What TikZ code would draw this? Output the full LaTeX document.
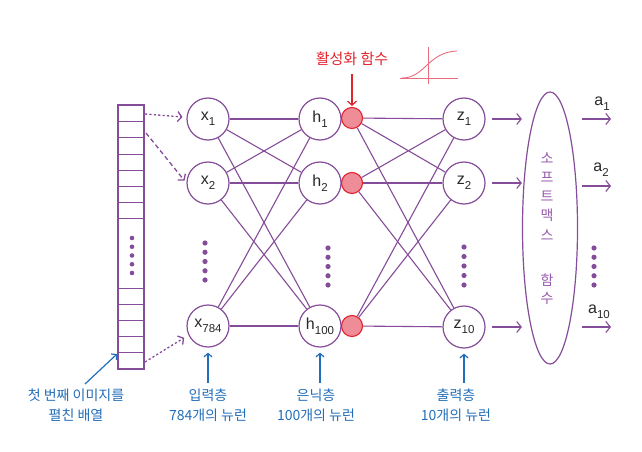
\documentclass[tikz,border=0pt]{standalone}
\usepackage{fontspec}
\setmainfont{Liberation Sans}
\newfontfamily\kr{Noto Sans CJK KR}
\usetikzlibrary{arrows.meta,shapes.geometric}
\definecolor{pur}{RGB}{133,76,153}
\definecolor{purtxt}{RGB}{150,90,172}
\definecolor{redc}{RGB}{225,35,45}
\definecolor{pinkf}{RGB}{238,140,152}
\definecolor{sigc}{RGB}{232,110,125}
\definecolor{bluec}{RGB}{35,110,185}
\definecolor{lblc}{RGB}{40,40,40}
\newcommand\lsub[1]{\raisebox{-0.55ex}{\fontsize{11.5}{12}\selectfont #1}}
\begin{document}
\begin{tikzpicture}[x=1pt,y=-1pt,
  neuron/.style={circle,draw=pur,line width=1.2pt,fill=white,minimum size=42pt,inner sep=0pt,
    text=lblc,font=\fontsize{16}{16}\selectfont},
  actnode/.style={circle,draw=redc,line width=1.1pt,fill=pinkf,minimum size=21pt,inner sep=0pt},
  conn/.style={draw=pur,line width=1.1pt},
  parr/.style={draw=pur,line width=1.1pt,-{Straight Barb[length=4.5pt,width=11pt]}},
  inarr/.style={draw=pur,line width=1.3pt,-{Straight Barb[length=4pt,width=10pt]}},
  barr/.style={draw=bluec,line width=1.2pt,-{Straight Barb[length=3.5pt,width=8pt]}},
  blbl/.style={text=bluec,font=\kr\fontsize{14}{20}\selectfont,align=center,inner sep=1pt},
  smtxt/.style={text=purtxt,font=\kr\fontsize{14}{14}\selectfont,inner sep=0pt},
  albl/.style={text=lblc,font=\fontsize{16}{16}\selectfont,inner sep=0pt},
  dotp/.style={fill=pur}
]
\useasboundingbox (0,0) rectangle (642,452);

% ---- flattened array
\node[draw=pur,line width=1.1pt,minimum width=26pt,minimum height=264pt,inner sep=0pt] (arr) at (131,237) {};
\foreach \yy in {121,137.5,154,170,186,202,218,288,304,320,336,352}
  \draw[pur,line width=1pt] (118,\yy) -- (144,\yy);
\foreach \i in {0,...,4} \fill[dotp] (132,238+\i*8.75) circle (2.3pt);
\coordinate (c1) at (145,114);
\coordinate (c2) at (146,133);
\coordinate (cb) at (145,362);

% ---- neurons
\node[neuron] (x1) at (208,119) {x\lsub{1}};
\node[neuron] (x2) at (208,183) {x\lsub{2}};
\node[neuron] (x3) at (208,326) {x\lsub{784}};
\node[neuron] (h1) at (320,119) {h\lsub{1}};
\node[neuron] (h2) at (320,183) {h\lsub{2}};
\node[neuron] (h3) at (320,326) {h\lsub{100}};
\node[actnode] (r1) at (352,118) {};
\node[actnode] (r2) at (352,183) {};
\node[actnode] (r3) at (352,326) {};
\node[neuron] (z1) at (464,119) {z\lsub{1}};
\node[neuron] (z2) at (464,183) {z\lsub{2}};
\node[neuron] (z3) at (464,327) {z\lsub{10}};

% ---- connections
\foreach \a in {1,2,3} \foreach \b in {1,2,3} {
  \draw[conn] (x\a) -- (h\b);
  \draw[conn] (r\a) -- (z\b);
}

% ---- vertical dots
\foreach \i in {0,...,4} {
  \fill[dotp] (205,243+\i*9.25) circle (2.6pt);
  \fill[dotp] (328,248+\i*9.25) circle (2.6pt);
  \fill[dotp] (464,247+\i*9.5) circle (2.6pt);
  \fill[dotp] (594,248+\i*9.25) circle (2.6pt);
}

% ---- input arrows from array
\draw[inarr,dash pattern=on 2.2pt off 2.2pt,shorten >=4pt] (c1) -- (x1);
\draw[inarr,dash pattern=on 4.5pt off 3pt,shorten >=3pt] (c2) -- (x2.west);
\draw[inarr,dash pattern=on 2.2pt off 2.2pt,shorten >=5pt] (cb) -- (x3.205);

% ---- softmax
\node[draw=pur,line width=1.2pt,ellipse,minimum width=55pt,minimum height=272pt,inner sep=0pt] (sm) at (550,228) {};
\node[smtxt] (s1) at (547,158) {소};
\node[smtxt] (s2) at (547,177) {프};
\node[smtxt] (s3) at (547,196) {트};
\node[smtxt] (s4) at (547,215) {맥};
\node[smtxt] (s5) at (547,235) {스};
\node[smtxt] (s6) at (547,280) {함};
\node[smtxt] (s7) at (547,298) {수};

\draw[parr,shorten <=6pt] (z1) -- (z1 -| sm.west);
\draw[parr,shorten <=6pt] (z2) -- (z2 -| sm.west);
\draw[parr,shorten <=6pt] (z3) -- (z3 -| sm.west);

\coordinate (o1s) at (582,119); \coordinate (o1e) at (611,119);
\coordinate (o2s) at (582,186); \coordinate (o2e) at (611,186);
\coordinate (o3s) at (582,327); \coordinate (o3e) at (611,327);
\draw[parr] (o1s) -- (o1e);
\draw[parr] (o2s) -- (o2e);
\draw[parr] (o3s) -- (o3e);
\node[albl] (a1) at (602,104) {a\lsub{1}};
\node[albl] (a2) at (601,170) {a\lsub{2}};
\node[albl] (a3) at (599,312) {a\lsub{10}};

% ---- activation label and sigmoid sketch
\node[text=redc,font=\kr\fontsize{15}{15}\selectfont,inner sep=1pt] (actl) at (352,59) {활성화 함수};
\draw[draw=redc,line width=1.2pt,-{Straight Barb[length=4pt,width=9pt]},shorten <=7pt,shorten >=1pt] (actl) -- (r1);
\draw[sigc,line width=0.8pt] (400,78) -- (458,78);
\draw[sigc,line width=0.8pt] (428,47) -- (428,84);
\draw[sigc,line width=0.9pt] (402,78) .. controls (425,78) and (428,52) .. (457,51);

% ---- bottom labels
\node[blbl,anchor=north] (lbla) at (76,388) {첫 번째 이미지를\\펼친 배열};
\node[blbl,anchor=north] (lblx) at (208,388) {입력층\\784개의 뉴런};
\node[blbl,anchor=north] (lblh) at (316,388) {은닉층\\100개의 뉴런};
\node[blbl,anchor=north] (lblz) at (456,388) {출력층\\10개의 뉴런};
\coordinate (afrom) at (85,384);
\coordinate (ato) at (117,354);
\draw[barr] (afrom) -- (ato);
\draw[barr,shorten <=5pt,shorten >=5pt] (lblx.north) -- (x3.south);
\draw[barr,shorten <=5pt,shorten >=5pt] (lblh.north -| h3.south) -- (h3.south);
\draw[barr,shorten <=5pt,shorten >=5pt] (lblz.north -| z3.south) -- (z3.south);
\end{tikzpicture}
\end{document}
